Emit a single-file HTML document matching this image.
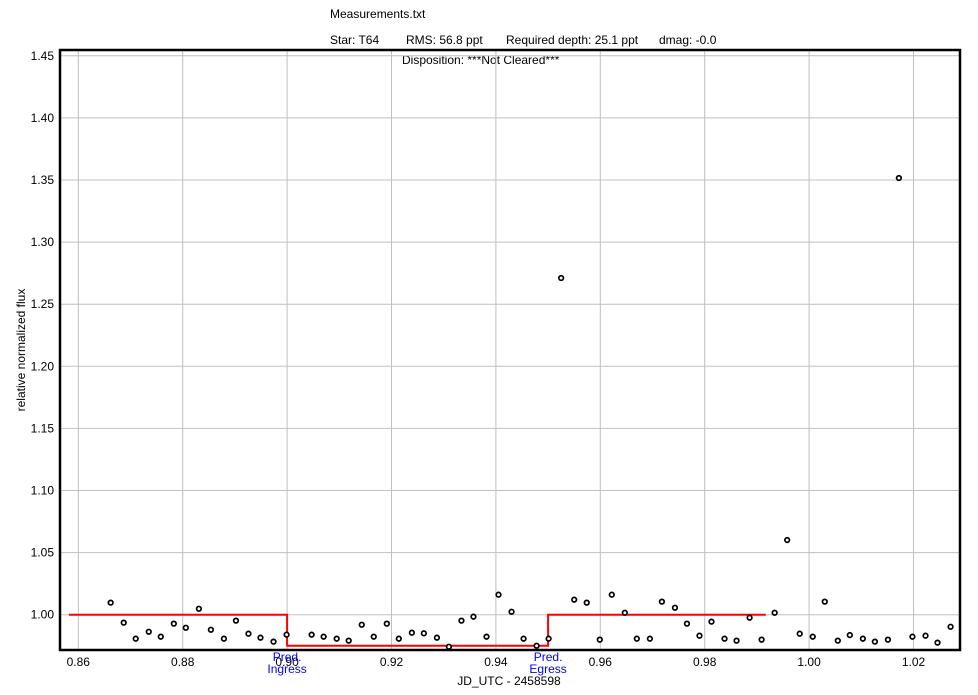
<!DOCTYPE html>
<html><head><meta charset="utf-8"><style>
body{margin:0;background:#fff;}
svg text{font-family:"Liberation Sans",Arial,sans-serif;font-size:12px;}
</style></head><body>
<svg id="chart" width="978" height="690" xmlns="http://www.w3.org/2000/svg">
<text x="330" y="18">Measurements.txt</text>
<text x="330" y="44">Star: T64</text>
<text x="406" y="44">RMS: 56.8 ppt</text>
<text x="506" y="44">Required depth: 25.1 ppt</text>
<text x="659" y="44">dmag: -0.0</text>
<text x="402" y="64">Disposition: ***Not Cleared***</text>
<text transform="translate(25,350) rotate(-90)" text-anchor="middle">relative normalized flux</text>
<text x="509" y="685" text-anchor="middle">JD_UTC - 2458598</text>
<g id="grid"></g><g id="ticks"></g><g id="model"></g><g id="pts"></g>
<rect x="60" y="50" width="900" height="600" fill="none" stroke="#000" stroke-width="2.5"/>
</svg>
<script>
const xTicks=[0.86,0.88,0.90,0.92,0.94,0.96,0.98,1.00,1.02];
const yTicks=[1.00,1.05,1.10,1.15,1.20,1.25,1.30,1.35,1.40,1.45];
const jd=[0.8662,0.8687,0.8710,0.8735,0.8758,0.8783,0.8806,0.8831,0.8854,0.8879,0.8902,0.8926,0.8949,0.8974,0.8999,0.9047,0.9070,0.9095,0.9118,0.9143,0.9166,0.9191,0.9214,0.9239,0.9262,0.9287,0.9310,0.9334,0.9357,0.9382,0.9405,0.9430,0.9453,0.9478,0.9501,0.9525,0.9550,0.9574,0.9599,0.9622,0.9647,0.9670,0.9695,0.9718,0.9743,0.9766,0.9790,0.9813,0.9838,0.9861,0.9886,0.9909,0.9934,0.9958,0.9982,1.0007,1.0030,1.0055,1.0078,1.0103,1.0126,1.0151,1.0172,1.0198,1.0223,1.0246,1.0271];
const flux=[1.0097,0.9936,0.9807,0.9863,0.9823,0.9928,0.9895,1.0048,0.9879,0.9807,0.9952,0.9847,0.9815,0.9783,0.9839,0.9839,0.9823,0.9807,0.9791,0.9919,0.9823,0.9928,0.9807,0.9855,0.9850,0.9815,0.9742,0.9952,0.9984,0.9823,1.0161,1.0024,0.9807,0.9750,0.9807,1.2711,1.0121,1.0097,0.9799,1.0161,1.0016,0.9807,0.9807,1.0105,1.0056,0.9928,0.9831,0.9944,0.9807,0.9791,0.9976,0.9799,1.0016,1.0601,0.9847,0.9823,1.0105,0.9791,0.9836,0.9807,0.9783,0.9799,1.3516,0.9823,0.9831,0.9775,0.9903];
const modelX=[0.8582,0.9000,0.9000,0.9500,0.9500,0.9917];
const modelY=[1.000,1.000,0.975,0.975,1.000,1.000];
const preds=[["Pred.","Ingress",0.9000],["Pred.","Egress",0.9500]];
const X=v=>78.3+(v-0.86)*5220, Y=v=>614.7-(v-1)*1242;
const NS="http://www.w3.org/2000/svg";
function mk(t,a,p){const e=document.createElementNS(NS,t);for(const k in a)e.setAttribute(k,a[k]);p.appendChild(e);return e;}
const g=document.getElementById('grid'),tk=document.getElementById('ticks');
xTicks.forEach(v=>{const l=mk('line',{x1:X(v),x2:X(v),y1:50,y2:650,stroke:'#c0c0c0'},g);


const t=mk('text',{x:X(v),y:666,'text-anchor':'middle'},tk);t.textContent=v.toFixed(2);

});
yTicks.forEach(v=>{const l=mk('line',{x1:60,x2:960,y1:Y(v),y2:Y(v),stroke:'#c0c0c0'},g);


const t=mk('text',{x:54,y:Y(v)+4,'text-anchor':'end'},tk);t.textContent=v.toFixed(2);

});
const m=mk('polyline',{points:modelX.map((x,i)=>X(x)+','+Y(modelY[i])).join(' '),fill:'none',stroke:'#f00','stroke-width':2},document.getElementById('model'));


preds.forEach(p=>{const t=mk('text',{x:X(p[2]),y:661,'text-anchor':'middle',fill:'#0000ff'},tk);t.textContent=p[0];


const t2=mk('text',{x:X(p[2]),y:673,'text-anchor':'middle',fill:'#0000ff'},tk);t2.textContent=p[1];

});
const pg=document.getElementById('pts');
jd.forEach((x,i)=>{const c=mk('circle',{cx:X(x),cy:Y(flux[i]),r:2.3,fill:'#fff',stroke:'#000','stroke-width':1.7},pg);

});
</script>
</body></html>
